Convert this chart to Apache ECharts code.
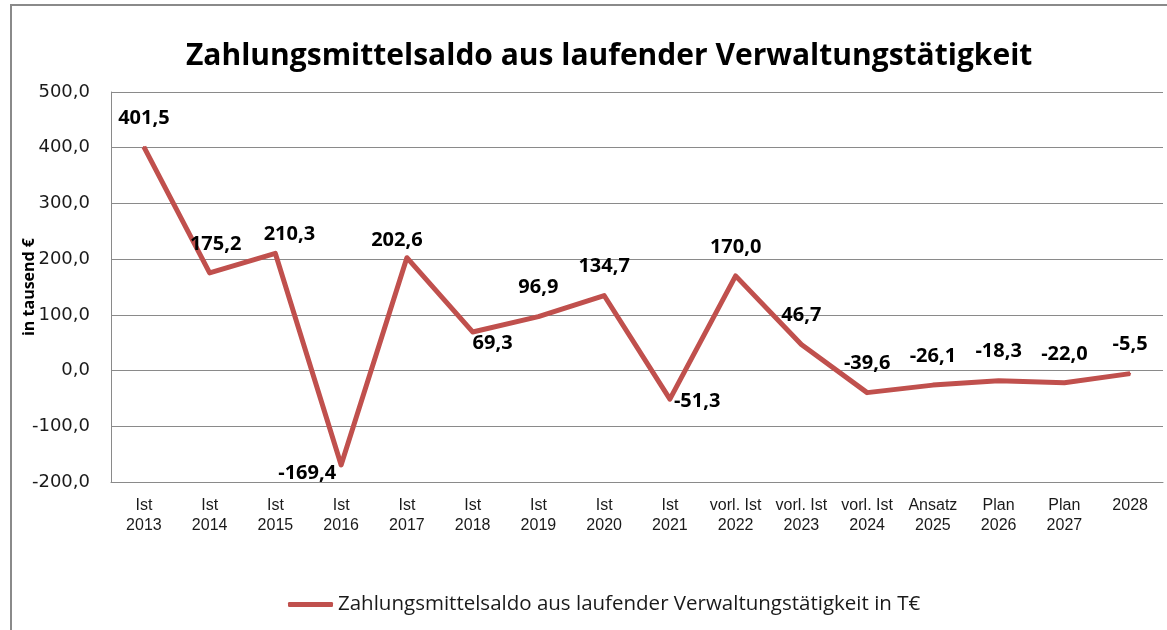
<!DOCTYPE html>
<html>
<head>
<meta charset="utf-8">
<script src="https://cdn.jsdelivr.net/npm/echarts@6/dist/echarts.min.js"></script>
<style>
  html, body { margin: 0; padding: 0; background: #fff; }
  #chart { width: 1167px; height: 630px; }
</style>
</head>
<body>
<div id="chart"></div>
<script>
var categories = [
  'Ist\n2013', 'Ist\n2014', 'Ist\n2015', 'Ist\n2016', 'Ist\n2017', 'Ist\n2018',
  'Ist\n2019', 'Ist\n2020', 'Ist\n2021', 'vorl. Ist\n2022', 'vorl. Ist\n2023',
  'vorl. Ist\n2024', 'Ansatz\n2025', 'Plan\n2026', 'Plan\n2027', '2028'
];
var saldo = [401.5, 175.2, 210.3, -169.4, 202.6, 69.3, 96.9, 134.7, -51.3, 170.0, 46.7, -39.6, -26.1, -18.3, -22.0, -5.5];
var yTicks = { min: -200, max: 500, interval: 100 };

var titleText = 'Zahlungsmittelsaldo aus laufender Verwaltungstätigkeit';
var seriesName = 'Zahlungsmittelsaldo aus laufender Verwaltungstätigkeit in T€';

// label placement tweaks, like the hand-moved labels in the original
var labelTweaks = {
  1: { position: 'top', distance: 18, offset: [6, 0] },
  2: { position: 'top', distance: 8, offset: [14, 0] },
  3: { position: 'left', distance: 4, offset: [0, 8] },
  4: { position: 'top', distance: 6, offset: [-10, 0] },
  5: { position: 'bottom', distance: 0, offset: [20, 0] },
  8: { position: 'right', distance: 3, offset: [0, 2] }
};

function fmt(v) {
  return v.toFixed(1).replace('.', ',');
}

var points = saldo.map(function (v, i) {
  var item = { value: v };
  if (labelTweaks[i]) item.label = labelTweaks[i];
  return item;
});

var chart = echarts.init(document.getElementById('chart'));
chart.setOption({
  animation: false,
  graphic: [{
    type: 'rect',
    shape: { x: 11, y: 5, width: 1300, height: 800 },
    style: { fill: 'none', stroke: '#8a8a8a', lineWidth: 2 },
    silent: true
  }],
  title: {
    text: titleText,
    left: 181,
    top: 36,
    textStyle: { fontFamily: 'Open Sans', fontWeight: 'bold', fontSize: 30, color: '#000' }
  },
  legend: {
    left: 283,
    top: 589,
    icon: 'roundRect',
    itemWidth: 45,
    itemHeight: 5,
    itemGap: 5,
    itemStyle: { color: '#C0504D', opacity: 1 },
    textStyle: { fontFamily: 'Open Sans', fontSize: 20.5, color: '#1a1a1a' },
    data: [seriesName]
  },
  grid: { left: 111, right: 4, top: 92, bottom: 148, containLabel: false },
  xAxis: {
    type: 'category',
    data: categories,
    boundaryGap: true,
    axisLine: { onZero: false, lineStyle: { color: '#8a8a8a', width: 1 } },
    axisTick: { show: false },
    axisLabel: {
      interval: 0,
      margin: 14,
      fontFamily: 'Liberation Sans',
      fontSize: 16,
      lineHeight: 20,
      color: '#1a1a1a'
    }
  },
  yAxis: {
    type: 'value',
    min: yTicks.min,
    max: yTicks.max,
    interval: yTicks.interval,
    name: 'in tausend €',
    nameLocation: 'middle',
    nameGap: 74,
    nameMoveOverlap: false,
    nameTextStyle: { fontFamily: 'Open Sans', fontWeight: 'bold', fontSize: 16, color: '#000' },
    axisLine: { show: true, lineStyle: { color: '#8a8a8a', width: 1 } },
    axisTick: { show: false },
    splitLine: { lineStyle: { color: '#8a8a8a', width: 1 } },
    axisLabel: {
      margin: 21,
      fontFamily: 'DejaVu Sans',
      fontSize: 18,
      color: '#1a1a1a',
      formatter: function (v) { return fmt(v); }
    }
  },
  series: [{
    name: seriesName,
    type: 'line',
    data: points,
    showSymbol: true,
    symbol: 'circle',
    symbolSize: 2,
    itemStyle: { color: '#C0504D' },
    color: '#C0504D',
    lineStyle: { color: '#C0504D', width: 5, join: 'round' },
    label: {
      show: true,
      position: 'top',
      distance: 18,
      fontFamily: 'Open Sans',
      fontWeight: 'bold',
      fontSize: 20,
      color: '#000',
      formatter: function (p) { return fmt(p.value); }
    }
  }]
});
</script>
</body>
</html>
